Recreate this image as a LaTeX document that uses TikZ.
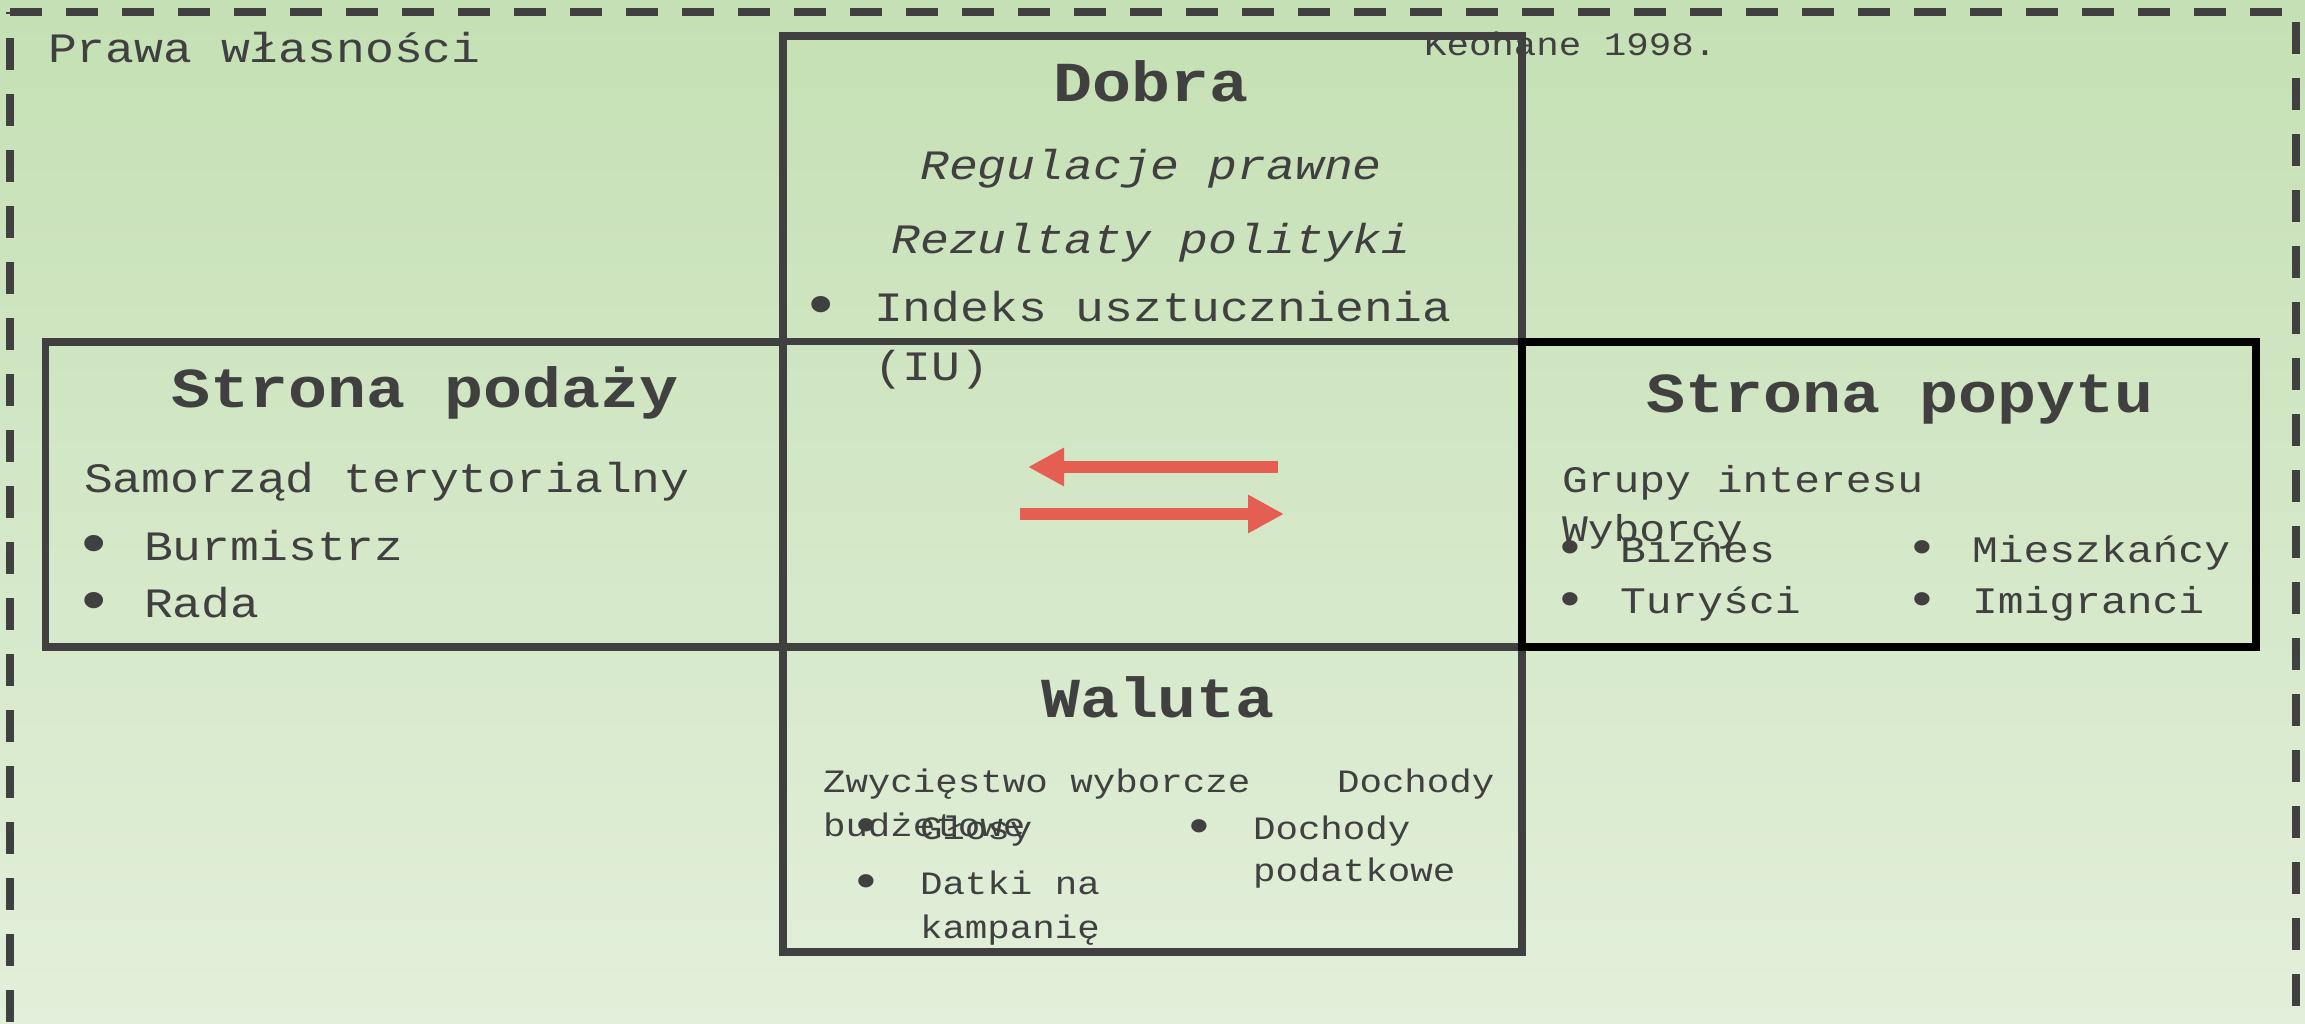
\documentclass[tikz,border=0pt]{standalone}
\usepackage{fontspec}
\usetikzlibrary{arrows.meta}
\newfontfamily\cf{Liberation Mono}[FakeStretch=1.15]
\definecolor{ink}{HTML}{404040}
\definecolor{bgtop}{HTML}{C5E0B4}
\definecolor{bgbot}{HTML}{E2EFDA}
\definecolor{arrc}{HTML}{E55E52}
\newcommand\szM{\fontsize{41.8pt}{50pt}\selectfont}
\newcommand\szD{\fontsize{37.4pt}{45pt}\selectfont}
\newcommand\szS{\fontsize{32.6pt}{40pt}\selectfont}
\newcommand\szL{\fontsize{56.5pt}{66pt}\selectfont}
\newcommand\szBL{\fontsize{60pt}{60pt}\selectfont}
\newcommand\szBS{\fontsize{49pt}{49pt}\selectfont}
\tikzset{
  txt/.style={inner sep=0pt, outer sep=0pt, text=ink},
  body/.style={txt, font=\cf\szM, anchor=base west},
  dem/.style={txt, font=\cf\szD, anchor=base west},
  ital/.style={txt, font=\cf\itshape\szM, anchor=base},
  small/.style={txt, font=\cf\szS, anchor=base west},
  ttl/.style={txt, font=\cf\bfseries\szL, anchor=base},
  bulM/.style={txt, font=\cf\szBL, anchor=center, yshift=-6.5pt},
  bulS/.style={txt, font=\cf\szBS, anchor=center, yshift=-5.5pt},
  cell/.style={draw=ink, line width=7.5pt, inner sep=0pt, outer sep=0pt},
  framel/.style={draw=ink, line width=8pt, dash pattern=on 32pt off 24pt},
  redarrow/.style={draw=arrc, line width=12pt, -{Triangle[length=36pt,width=36pt]}}
}
\begin{document}
\begin{tikzpicture}[x=1pt,y=-1pt]
\useasboundingbox (0,0) rectangle (2305,1024);
\clip (0,0) rectangle (2305,1024);
\shade[top color=bgtop, bottom color=bgbot] (0,0) rectangle (2305,1024);

% outer dashed frame
\coordinate (fTL) at (10,12);
\coordinate (fTR) at (2296,12);
\coordinate (fBL) at (10,1060);
\coordinate (fBR) at (2296,1060);
\draw[framel] (fTL) -- (fTR);
\draw[framel, dash phase=30pt] (fTL) -- (fBL);
\draw[framel, dash phase=46pt] (fTR) -- (fBR);

\node[body] (prawa) at (48,63) {Prawa własności};
\node[small] (keo) at (1424,56) {Keohane 1998.};

% boxes
\node[cell, minimum width=739pt, minimum height=305.5pt] (dobraBox) at (1152.5,188.75) {};
\node[cell, minimum width=737.5pt, minimum height=305pt] (podazBox) at (414.25,494.5) {};
\node[cell, minimum width=739pt, minimum height=305pt] (walutaBox) at (1152.5,799.5) {};
\node[cell, draw=black, minimum width=734pt, minimum height=305pt] (popytBox) at (1889,494.5) {};

% Dobra
\node[ttl] (dobra) at (1151,102) {Dobra};
\node[ital] (regul) at (1151,180) {Regulacje prawne};
\node[ital] (rezult) at (1151,254) {Rezultaty polityki};
\node[bulM] (b1) at (821,304) {•};
\node[body] (indeks) at (874,322) {Indeks usztucznienia};
\node[body] (iu) at (874,380) {(IU)};

% Strona podazy
\node[ttl] (podaz) at (425,407) {Strona podaży};
\node[body] (samorz) at (84,492) {Samorząd terytorialny};
\node[bulM] (b2) at (94,543) {•};
\node[body] (burm) at (144,560) {Burmistrz};
\node[bulM] (b3) at (94,600) {•};
\node[body] (rada) at (144,617) {Rada};

% Strona popytu
\node[ttl] (popyt) at (1900,412) {Strona popytu};
\node[dem] (grupy) at (1562,492) {Grupy interesu};
\node[dem] (wyb) at (1562,541) {Wyborcy};
\node[bulS] (b4) at (1570,547) {•};
\node[dem] (biz) at (1620,562) {Biznes};
\node[bulS] (b5) at (1570,599) {•};
\node[dem] (tur) at (1620,613) {Turyści};
\node[bulS] (b6) at (1922,547) {•};
\node[dem] (mie) at (1972,562) {Mieszkańcy};
\node[bulS] (b7) at (1922,599) {•};
\node[dem] (imi) at (1972,613) {Imigranci};

% Waluta
\node[ttl] (waluta) at (1158,717) {Waluta};
\node[small] (zwyc) at (823,792) {Zwycięstwo wyborcze};
\node[small] (doch1) at (1337,792) {Dochody};
\node[small] (budz) at (823,836) {budżetowe};
\node[bulS] (b8) at (866,825) {•};
\node[small] (glosy) at (920,839) {Głosy};
\node[bulS] (b9) at (866,881) {•};
\node[small] (datki) at (920,894) {Datki na};
\node[small] (kamp) at (920,938) {kampanię};
\node[bulS] (b10) at (1199,826) {•};
\node[small] (doch2) at (1253,839) {Dochody};
\node[small] (podat) at (1253,881) {podatkowe};

% arrows
\coordinate (a1s) at (1278,467);
\coordinate (a1e) at (1028,467);
\coordinate (a2s) at (1020,514);
\coordinate (a2e) at (1284,514);
\draw[redarrow] (a1s) -- (a1e);
\draw[redarrow] (a2s) -- (a2e);
\end{tikzpicture}
\end{document}
